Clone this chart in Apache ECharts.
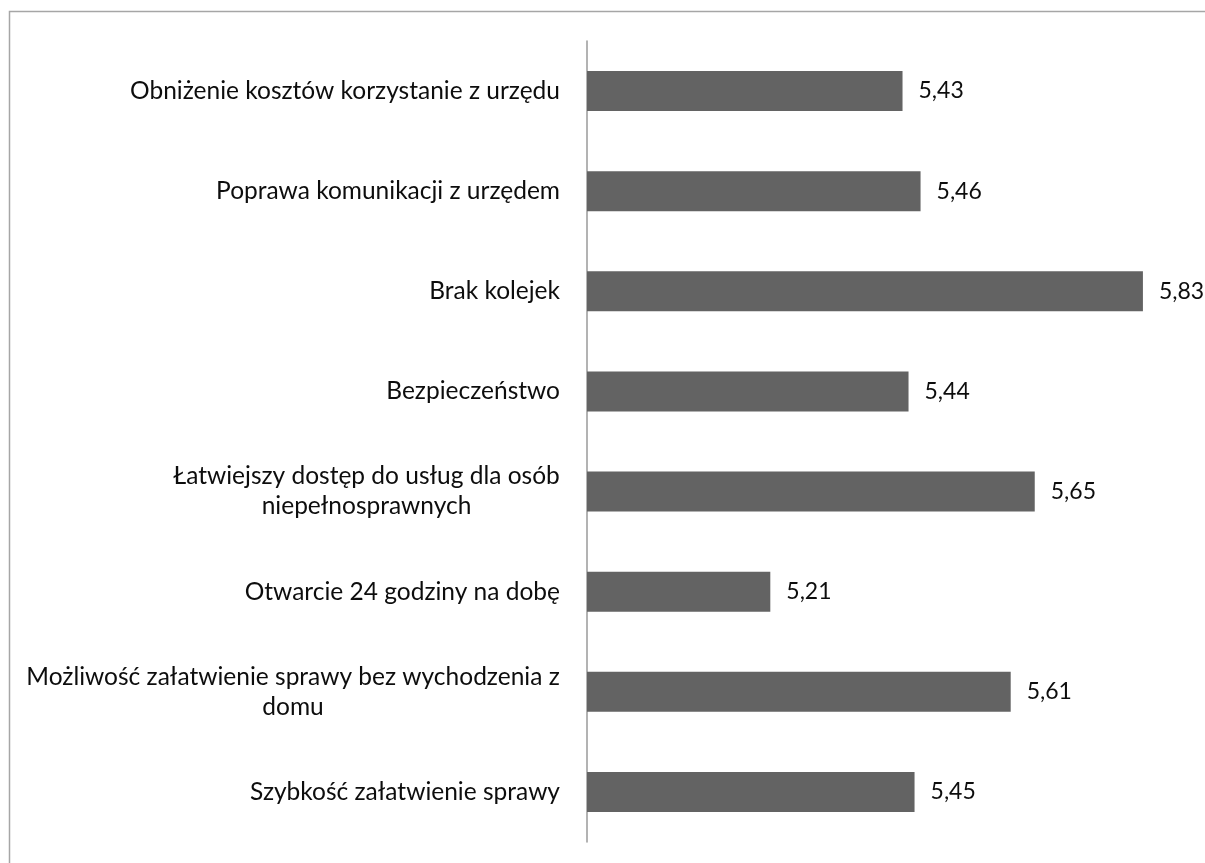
<!DOCTYPE html>
<html>
<head>
<meta charset="utf-8">
<script src="https://cdn.jsdelivr.net/npm/echarts@6/dist/echarts.min.js"></script>
<style>
html, body { margin: 0; padding: 0; background: #fff; }
#main { width: 1205px; height: 863px; }
</style>
</head>
<body>
<div id="main"></div>
<script>
// kategorie (od góry do dołu) i średnie oceny
const categories = [
  'Obniżenie kosztów korzystanie z urzędu',
  'Poprawa komunikacji z urzędem',
  'Brak kolejek',
  'Bezpieczeństwo',
  'Łatwiejszy dostęp do usług dla osób\nniepełnosprawnych',
  'Otwarcie 24 godziny na dobę',
  'Możliwość załatwienie sprawy bez wychodzenia z\ndomu',
  'Szybkość załatwienie sprawy'
];
const values = [5.43, 5.46, 5.83, 5.44, 5.65, 5.21, 5.61, 5.45];

const FONT = 'Lato';
const FSIZE = 24.5;

// szerokość tekstu - potrzebna, żeby wyśrodkować linie w etykietach dwuwierszowych
const ctx = document.createElement('canvas').getContext('2d');
ctx.font = FSIZE + 'px ' + FONT;
const rich = {};
categories.forEach((c, i) => {
  const lines = c.split('\n');
  const w = Math.max(...lines.map(l => ctx.measureText(l).width));
  rich['c' + i] = { width: Math.ceil(w), align: 'center', fontFamily: FONT, fontSize: FSIZE, color: '#0d0d0d', lineHeight: 30 };
});

const myChart = echarts.init(document.getElementById('main'));
const option = {
  animation: false,
  backgroundColor: '#fff',
  graphic: [{
    type: 'rect',
    shape: { x: 9.5, y: 11.5, width: 1400, height: 1000 },
    style: { fill: 'none', stroke: '#a6a6a6', lineWidth: 1.5 },
    silent: true
  }],
  grid: { left: 587, right: 17, top: 41, bottom: 21 },
  xAxis: {
    type: 'value',
    min: 4.905,
    max: 5.905,
    show: false
  },
  yAxis: {
    type: 'category',
    inverse: true,
    data: categories,
    axisLine: { show: true, lineStyle: { color: '#9a9a9a', width: 1.5 } },
    axisTick: { show: false },
    axisLabel: {
      margin: 27,
      align: 'right',
      fontFamily: FONT,
      fontSize: FSIZE,
      color: '#0d0d0d',
      lineHeight: 30,
      formatter: (val, idx) => {
        if (val.indexOf('\n') < 0) return val;
        return val.split('\n').map(l => '{c' + idx + '|' + l + '}').join('\n');
      },
      rich: rich
    }
  },
  series: [{
    type: 'bar',
    data: values,
    barWidth: 40,
    itemStyle: { color: '#636363' },
    label: {
      show: true,
      position: 'right',
      distance: 16,
      fontFamily: FONT,
      fontSize: 23,
      color: '#0d0d0d',
      formatter: p => p.value.toFixed(2).replace('.', ',')
    }
  }]
};
myChart.setOption(option);
</script>
</body>
</html>
